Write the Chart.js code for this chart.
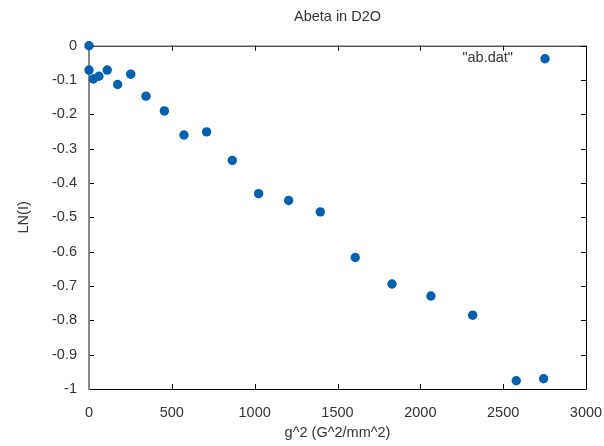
<!DOCTYPE html>
<html lang="en">
<head>
  <meta charset="UTF-8">
  <title>Abeta in D2O</title>
  <script src="https://cdn.jsdelivr.net/npm/chart.js"></script>
  <style>
    body {
      margin: 0;
      background: #fff;
    }
    #plot {
      display: block;
    }
  </style>
</head>
<body>
<canvas id="plot" width="604" height="446"></canvas>

<script>
  // g^2 values (G^2/mm^2) and LN(I) measured at each one
  const gSquared = [0, 0, 26, 60, 110, 173, 252, 344, 455, 573, 710, 865,
                    1024, 1205, 1396, 1607, 1829, 2064, 2316, 2579, 2744];
  const lnI = [0, -0.071, -0.097, -0.089, -0.071, -0.113, -0.083, -0.147, -0.190, -0.260, -0.251, -0.334,
               -0.431, -0.451, -0.484, -0.617, -0.694, -0.729, -0.785, -0.976, -0.970];

  const xTicks = [0, 500, 1000, 1500, 2000, 2500, 3000];
  const yTicks = [0, -0.1, -0.2, -0.3, -0.4, -0.5, -0.6, -0.7, -0.8, -0.9, -1];

  const seriesName = '"ab.dat"';
  const pointColor = '#0060ad';
  const textColor = '#333';
  const fontFamily = '"Liberation Sans", Arial, sans-serif';

  const points = gSquared.map((g, i) => ({ x: g, y: lnI[i] }));

  // border with inward ticks on all four sides, plus the key in the top right
  const framePlugin = {
    id: 'frame',
    beforeDatasetsDraw(chart) {
      const { ctx, chartArea: a, scales } = chart;
      const tick = 5;
      ctx.save();
      ctx.strokeStyle = '#000';
      ctx.lineWidth = 1;
      ctx.beginPath();
      ctx.moveTo(a.left, a.top + 0.5);
      ctx.lineTo(a.right + 0.5, a.top + 0.5);
      ctx.lineTo(a.right + 0.5, a.bottom + 0.5);
      ctx.lineTo(a.left, a.bottom + 0.5);
      xTicks.forEach(v => {
        const px = Math.round(scales.x.getPixelForValue(v)) + 0.5;
        ctx.moveTo(px, a.bottom);
        ctx.lineTo(px, a.bottom - tick);
        ctx.moveTo(px, a.top);
        ctx.lineTo(px, a.top + tick);
      });
      yTicks.forEach(v => {
        const py = Math.round(scales.y.getPixelForValue(v)) + 0.5;
        ctx.moveTo(a.left, py);
        ctx.lineTo(a.left + tick, py);
        ctx.moveTo(a.right, py);
        ctx.lineTo(a.right - tick, py);
      });
      ctx.stroke();

      // zero axis along x = 0
      const x0 = scales.x.getPixelForValue(0);
      ctx.strokeStyle = '#888';
      ctx.lineWidth = 2;
      ctx.beginPath();
      ctx.moveTo(x0, a.top);
      ctx.lineTo(x0, a.bottom + 1);
      ctx.stroke();
      ctx.restore();
    },
    afterDatasetsDraw(chart) {
      const { ctx, chartArea: a } = chart;
      ctx.save();
      ctx.font = '14.5px ' + fontFamily;
      ctx.fillStyle = textColor;
      ctx.textAlign = 'right';
      ctx.textBaseline = 'middle';
      ctx.fillText(seriesName, a.right - 73, a.top + 12);
      ctx.fillStyle = pointColor;
      ctx.beginPath();
      ctx.arc(a.right - 41, a.top + 13, 4.7, 0, Math.PI * 2);
      ctx.fill();
      ctx.restore();
    }
  };

  new Chart(document.getElementById('plot'), {
    type: 'scatter',
    data: {
      datasets: [{
        label: seriesName,
        data: points,
        backgroundColor: pointColor,
        borderColor: pointColor,
        pointRadius: 4.7,
        pointHoverRadius: 4.7,
        borderWidth: 0,
        clip: false
      }]
    },
    options: {
      responsive: false,
      animation: false,
      devicePixelRatio: 1,
      layout: {
        padding: { left: 0, right: 18, top: 0, bottom: 0 }
      },
      plugins: {
        legend: { display: false },
        tooltip: { enabled: false },
        title: {
          display: true,
          text: 'Abeta in D2O',
          color: textColor,
          fullSize: false,
          font: { family: fontFamily, size: 14.5, weight: 'normal' },
          padding: { top: 8.3, bottom: 20 }
        }
      },
      scales: {
        x: {
          type: 'linear',
          min: 0,
          max: 3000,
          afterFit(scale) {
            scale.height = 57;
            scale.paddingLeft = 0;
            scale.paddingRight = 0;
          },
          afterBuildTicks(scale) { scale.ticks = xTicks.map(v => ({ value: v })); },
          grid: { display: false },
          border: { display: false },
          ticks: {
            color: textColor,
            padding: 7,
            maxRotation: 0,
            font: { family: fontFamily, size: 14.5 },
            callback: v => String(v)
          },
          title: {
            display: true,
            text: 'g^2 (G^2/mm^2)',
            color: textColor,
            font: { family: fontFamily, size: 14.5 },
            padding: { top: 0, bottom: 4 }
          }
        },
        y: {
          type: 'linear',
          min: -1,
          max: 0,
          afterFit(scale) {
            scale.width = 89;
            scale.paddingTop = 0;
            scale.paddingBottom = 0;
          },
          afterBuildTicks(scale) { scale.ticks = yTicks.map(v => ({ value: v })); },
          grid: { display: false },
          border: { display: false },
          ticks: {
            color: textColor,
            padding: 4,
            font: { family: fontFamily, size: 14.5 },
            callback: v => (Math.abs(v) < 1e-9 ? '0' : String(Number(v.toFixed(1))))
          },
          title: {
            display: true,
            text: 'LN(I)',
            color: textColor,
            font: { family: fontFamily, size: 14.5 },
            padding: { top: 15, bottom: 0 }
          }
        }
      }
    },
    plugins: [framePlugin]
  });
</script>
</body>
</html>
